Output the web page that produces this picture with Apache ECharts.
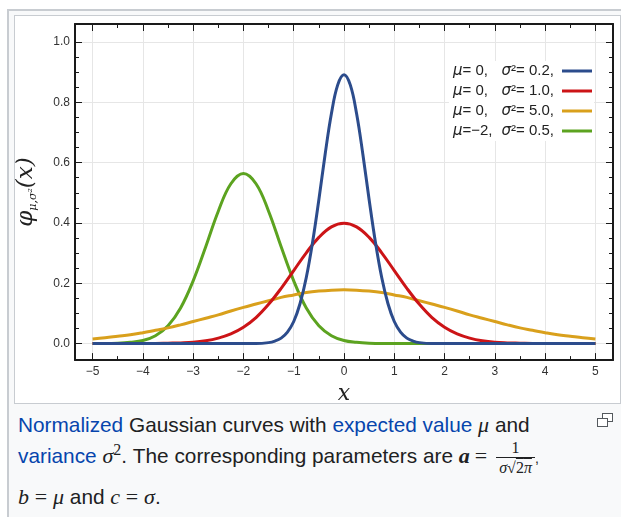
<!DOCTYPE html>
<html>
<head>
<meta charset="utf-8">
<script src="https://cdn.jsdelivr.net/npm/echarts@6/dist/echarts.min.js"></script>
<style>
  html, body { margin: 0; padding: 0; width: 621px; height: 517px; overflow: hidden; background: #fff; }
  .outer { position: absolute; left: 7px; top: 9px; width: 640px; height: 540px; border: 2px solid #c8ccd1; background: #f8f9fa; }
  .imgbox { position: absolute; left: 14px; top: 15px; width: 605px; height: 387px; border: 1px solid #c8ccd1; background: #fff; }
  #chart { position: absolute; left: 0; top: 0; width: 621px; height: 410px; }
  .cap { position: absolute; left: 18px; font-family: "Liberation Sans", Arial, sans-serif; font-size: 20.8px; color: #202122; white-space: nowrap; }
  .cap a { color: #0645ad; text-decoration: none; }
  .m { font-family: "Liberation Serif", "DejaVu Serif", serif; font-style: italic; font-size: 22px; }
  .eq { font-family: "Liberation Serif", serif; font-size: 22px; margin: 0 5px; }
  .frac { display: inline-block; vertical-align: middle; text-align: center; font-family: "Liberation Serif", serif; font-size: 16px; line-height: 19px; margin-left: 4px; }
  .frac .num { display: block; border-bottom: 1px solid #202122; padding: 0 4px; }
  .frac .den { display: block; font-style: italic; padding: 0 3px; }
  .frac .rad { text-decoration: overline; font-style: normal; }
  .mag { position: absolute; width: 9px; height: 7px; border: 1px solid #54595d; background: #fff; }
</style>
</head>
<body>
<div class="outer"></div>
<div class="imgbox"></div>
<div id="chart"></div>
<div class="cap" style="top:412px;"><a>Normalized</a> Gaussian curves with <a>expected value</a> <span class="m">μ</span> and</div>
<div class="cap" style="top:438px;"><a>variance</a> <span class="m">σ</span><sup style="font-family:'Liberation Serif',serif;font-size:16px;">2</sup>. The corresponding parameters are <span class="m" style="font-weight:bold;">a</span><span class="eq">=</span><span class="frac"><span class="num">1</span><span class="den">σ√<span class="rad">2<i>π</i></span></span></span><span style="font-size:14px;vertical-align:middle;">,</span></div>
<div class="cap" style="top:484px;"><span class="m">b</span> <span class="m" style="font-style:normal;">=</span> <span class="m">μ</span> and <span class="m">c</span> <span class="m" style="font-style:normal;">=</span> <span class="m">σ</span>.</div>
<div class="mag" style="left:602px;top:413px;"></div>
<div class="mag" style="left:597px;top:418px;"></div>
<script>
// x samples (shared by red, yellow, green)
var xs = [-5, -4.75, -4.5, -4.25, -4, -3.75, -3.5, -3.25, -3, -2.75, -2.5, -2.25, -2, -1.75, -1.5, -1.25, -1, -0.75, -0.5, -0.25,
          0, 0.25, 0.5, 0.75, 1, 1.25, 1.5, 1.75, 2, 2.25, 2.5, 2.75, 3, 3.25, 3.5, 3.75, 4, 4.25, 4.5, 4.75, 5];

// mu=0, sigma^2=0.2 (denser sampling near the peak)
var blueX = [-5, -4, -3, -2, -1.75, -1.5, -1.375, -1.25, -1.125, -1, -0.875, -0.75, -0.625, -0.5, -0.375, -0.25, -0.125,
             0, 0.125, 0.25, 0.375, 0.5, 0.625, 0.75, 0.875, 1, 1.125, 1.25, 1.375, 1.5, 1.75, 2, 3, 4, 5];
var blueY = [0, 0, 0, 0, 0, 0.003, 0.008, 0.018, 0.038, 0.073, 0.132, 0.219, 0.336, 0.477, 0.628, 0.763, 0.858,
             0.892, 0.858, 0.763, 0.628, 0.477, 0.336, 0.219, 0.132, 0.073, 0.038, 0.018, 0.008, 0.003, 0, 0, 0, 0, 0];
// mu=0, sigma^2=1.0
var redY = [0, 0, 0, 0, 0, 0, 0.001, 0.002, 0.004, 0.009, 0.018, 0.032, 0.054, 0.086, 0.130, 0.183, 0.242, 0.301, 0.352, 0.387,
            0.399, 0.387, 0.352, 0.301, 0.242, 0.183, 0.130, 0.086, 0.054, 0.032, 0.018, 0.009, 0.004, 0.002, 0.001, 0, 0, 0, 0, 0, 0];
// mu=0, sigma^2=5.0
var yellowY = [0.015, 0.019, 0.024, 0.029, 0.036, 0.044, 0.052, 0.062, 0.073, 0.084, 0.095, 0.108, 0.120, 0.131, 0.142, 0.153, 0.161, 0.169, 0.174, 0.177,
               0.178, 0.177, 0.174, 0.169, 0.161, 0.153, 0.142, 0.131, 0.120, 0.108, 0.095, 0.084, 0.073, 0.062, 0.052, 0.044, 0.036, 0.029, 0.024, 0.019, 0.015];
// mu=-2, sigma^2=0.5
var greenY = [0, 0, 0.001, 0.004, 0.010, 0.026, 0.059, 0.118, 0.208, 0.321, 0.439, 0.530, 0.564, 0.530, 0.439, 0.321, 0.208, 0.118, 0.059, 0.026,
              0.010, 0.004, 0.001, 0, 0, 0, 0, 0, 0, 0, 0, 0, 0, 0, 0, 0, 0, 0, 0, 0, 0];

var names = ['μ=0, σ²=0.2', 'μ=0, σ²=1.0', 'μ=0, σ²=5.0', 'μ=−2, σ²=0.5'];
var legendText = {
  'μ=0, σ²=0.2': '{m|μ}{a|= 0,}{m|σ}{b|²= 0.2,}',
  'μ=0, σ²=1.0': '{m|μ}{a|= 0,}{m|σ}{b|²= 1.0,}',
  'μ=0, σ²=5.0': '{m|μ}{a|= 0,}{m|σ}{b|²= 5.0,}',
  'μ=−2, σ²=0.5': '{m|μ}{a|=−2,}{m|σ}{b|²= 0.5,}'
};
var colors = ['#2c4c8c', '#cc1417', '#d9a01c', '#5ca320'];

var xMajor = [-5, -4, -3, -2, -1, 0, 1, 2, 3, 4, 5];
var xMinor = [-5, -4.5, -4, -3.5, -3, -2.5, -2, -1.5, -1, -0.5, 0, 0.5, 1, 1.5, 2, 2.5, 3, 3.5, 4, 4.5, 5];
var yMajor = [0, 0.2, 0.4, 0.6, 0.8, 1.0];
var yMinor = [0, 0.05, 0.1, 0.15, 0.2, 0.25, 0.3, 0.35, 0.4, 0.45, 0.5, 0.55, 0.6, 0.65, 0.7, 0.75, 0.8, 0.85, 0.9, 0.95, 1.0];

function pairs(x, y) {
  return x.map(function (v, i) { return [v, y[i]]; });
}

var frameColor = '#1a1a1a';
function axis(kind, pos, ticks, len, showLine) {
  var range = kind === 'x' ? { min: -5.35, max: 5.35 } : { min: -0.055, max: 1.06 };
  return {
    type: 'value', min: range.min, max: range.max, position: pos,
    axisLine: { show: showLine, onZero: false, lineStyle: { color: frameColor, width: 2 } },
    axisTick: { show: true, inside: true, length: len, customValues: ticks, lineStyle: { color: frameColor, width: 1 } },
    axisLabel: { show: false },
    splitLine: { show: false }
  };
}

var xBottom = axis('x', 'bottom', xMajor, 7, true);
xBottom.axisLabel = {
  show: true, customValues: xMajor, color: '#333', fontSize: 12, margin: 6,
  fontFamily: 'Liberation Sans, Arial, sans-serif',
  formatter: function (v) { return String(v).replace('-', '−'); }
};
xBottom.splitLine = { show: true, lineStyle: { color: '#e6e6e6', width: 1 } };
xBottom.name = 'x';
xBottom.nameLocation = 'middle';
xBottom.nameGap = 16;
xBottom.nameTextStyle = { fontFamily: 'DejaVu Serif, serif', fontStyle: 'italic', fontSize: 22, color: '#222' };

var yLeft = axis('y', 'left', yMajor, 7, true);
yLeft.axisLabel = {
  show: true, customValues: yMajor, color: '#333', fontSize: 12, margin: 5,
  fontFamily: 'Liberation Sans, Arial, sans-serif',
  formatter: function (v) { return v.toFixed(1); }
};
yLeft.splitLine = { show: true, lineStyle: { color: '#e6e6e6', width: 1 } };
yLeft.name = '{p|φ}{s|μ,σ²}{p|(x)}';
yLeft.nameLocation = 'middle';
yLeft.nameRotate = 90;
yLeft.nameGap = 36;
yLeft.nameTextStyle = {
  rich: {
    p: { fontFamily: 'DejaVu Serif, serif', fontStyle: 'italic', fontSize: 23, color: '#222', lineHeight: 26, verticalAlign: 'middle' },
    s: { fontFamily: 'DejaVu Serif, serif', fontStyle: 'italic', fontSize: 11, color: '#222', lineHeight: 12, verticalAlign: 'bottom' }
  }
};

var seriesOrder = [3, 2, 1, 0];
var seriesData = [pairs(blueX, blueY), pairs(xs, redY), pairs(xs, yellowY), pairs(xs, greenY)];

var legendFont = 'Liberation Sans, Arial, sans-serif';
var chart = echarts.init(document.getElementById('chart'));
chart.setOption({
  animation: false,
  backgroundColor: 'transparent',
  grid: { left: 75, top: 24, right: 8, bottom: 49 },
  legend: {
    orient: 'vertical', right: 27, top: 61, align: 'right',
    data: names, itemWidth: 30, itemHeight: 3, icon: 'rect', itemGap: 4,
    backgroundColor: '#fff', padding: [2, 2, 2, 4],
    formatter: function (n) { return legendText[n]; },
    textStyle: {
      color: '#222', fontSize: 15, lineHeight: 16,
      rich: {
        m: { fontStyle: 'italic', fontFamily: 'DejaVu Sans, sans-serif', fontSize: 15, color: '#222', align: 'left' },
        a: { fontFamily: legendFont, fontSize: 15, width: 39, color: '#222', align: 'left' },
        b: { fontFamily: legendFont, fontSize: 15, width: 46, color: '#222', align: 'left' }
      }
    }
  },
  xAxis: [xBottom, axis('x', 'bottom', xMinor, 4, false), axis('x', 'top', xMajor, 7, true), axis('x', 'top', xMinor, 4, false)],
  yAxis: [yLeft, axis('y', 'left', yMinor, 4, false), axis('y', 'right', yMajor, 7, true), axis('y', 'right', yMinor, 4, false)],
  series: seriesOrder.map(function (i) {
    return {
      name: names[i], type: 'line', data: seriesData[i], xAxisIndex: 0, yAxisIndex: 0,
      smooth: 0.4, showSymbol: false, symbol: 'none',
      lineStyle: { color: colors[i], width: 3 }, itemStyle: { color: colors[i] }
    };
  })
});
</script>
</body>
</html>
